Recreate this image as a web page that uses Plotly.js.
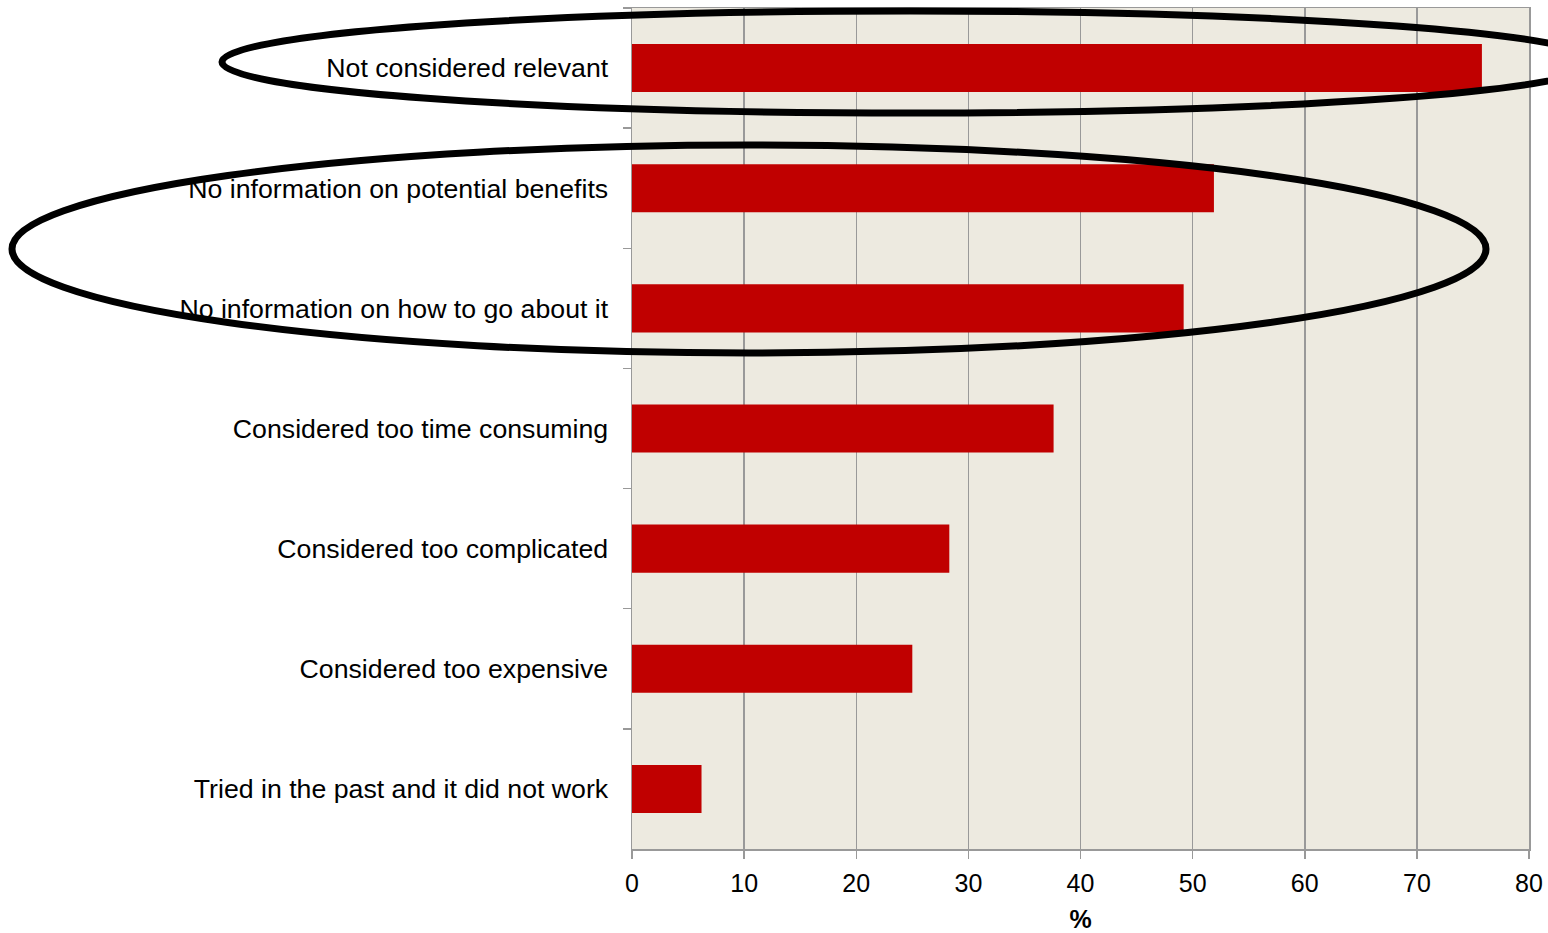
<!DOCTYPE html>
<html><head><meta charset="utf-8">
<script src="https://cdn.plot.ly/plotly-3.0.1.min.js"></script>
<style>html,body{margin:0;padding:0;background:#fff;}#chart{width:1548px;height:933px;}</style>
</head><body><div id="chart"></div>
<script>
const categories = [
  "Not considered relevant",
  "No information on potential benefits",
  "No information on how to go about it",
  "Considered too time consuming",
  "Considered too complicated",
  "Considered too expensive",
  "Tried in the past and it did not work"
];
const values = [75.8, 51.9, 49.2, 37.6, 28.3, 25.0, 6.2];
const xTicks = [0, 10, 20, 30, 40, 50, 60, 70, 80];

const W = 1548, H = 933;
const L = 632, R = 19, T = 8, B = 84;
const pw = W - L - R, ph = H - T - B;
function px2paperX(x){ return (x - L) / pw; }
function px2paperY(y){ return 1 - (y - T) / ph; }
function ellipse(cx, cy, rx, ry){
  return {type:'circle', xref:'paper', yref:'paper',
    x0: px2paperX(cx - rx), x1: px2paperX(cx + rx),
    y0: px2paperY(cy + ry), y1: px2paperY(cy - ry),
    line:{color:'#000', width:7}, layer:'above'};
}

const trace = {
  type:'bar', orientation:'h', x: values, y: categories,
  marker:{color:'#C00000'}, hoverinfo:'x+y'
};
const layout = {
  width: W, height: H,
  margin:{l:L, r:R, t:T, b:B, pad:0},
  paper_bgcolor:'#ffffff', plot_bgcolor:'#EDEAE0',
  bargap: 0.6,
  showlegend:false,
  font:{family:'"Liberation Sans", Arial, sans-serif', size:25, color:'#000'},
  xaxis:{range:[0,80], tickvals:xTicks, ticks:'outside', ticklen:8, tickcolor:'#999', tickwidth:1.5,
    showgrid:true, gridcolor:'#999', gridwidth:1.5, zeroline:false,
    showline:true, linecolor:'#999', linewidth:1.5, mirror:true,
    tickfont:{size:25}, ticklabelstandoff:3,
    title:{text:'<b>%</b>', font:{size:25}, standoff:20}, fixedrange:true},
  yaxis:{autorange:'reversed', ticks:'outside', ticklen:8, tickcolor:'#999', tickwidth:1.5,
    tickson:'boundaries', showline:true, linecolor:'#999', linewidth:1.5, mirror:true,
    showgrid:false, tickfont:{size:26.7}, ticklabelstandoff:17, fixedrange:true},
  shapes:[
    ellipse(910, 62, 688, 51),
    ellipse(749, 249, 737, 104)
  ]
};
Plotly.newPlot('chart', [trace], layout, {displayModeBar:false, staticPlot:true});
</script></body></html>
